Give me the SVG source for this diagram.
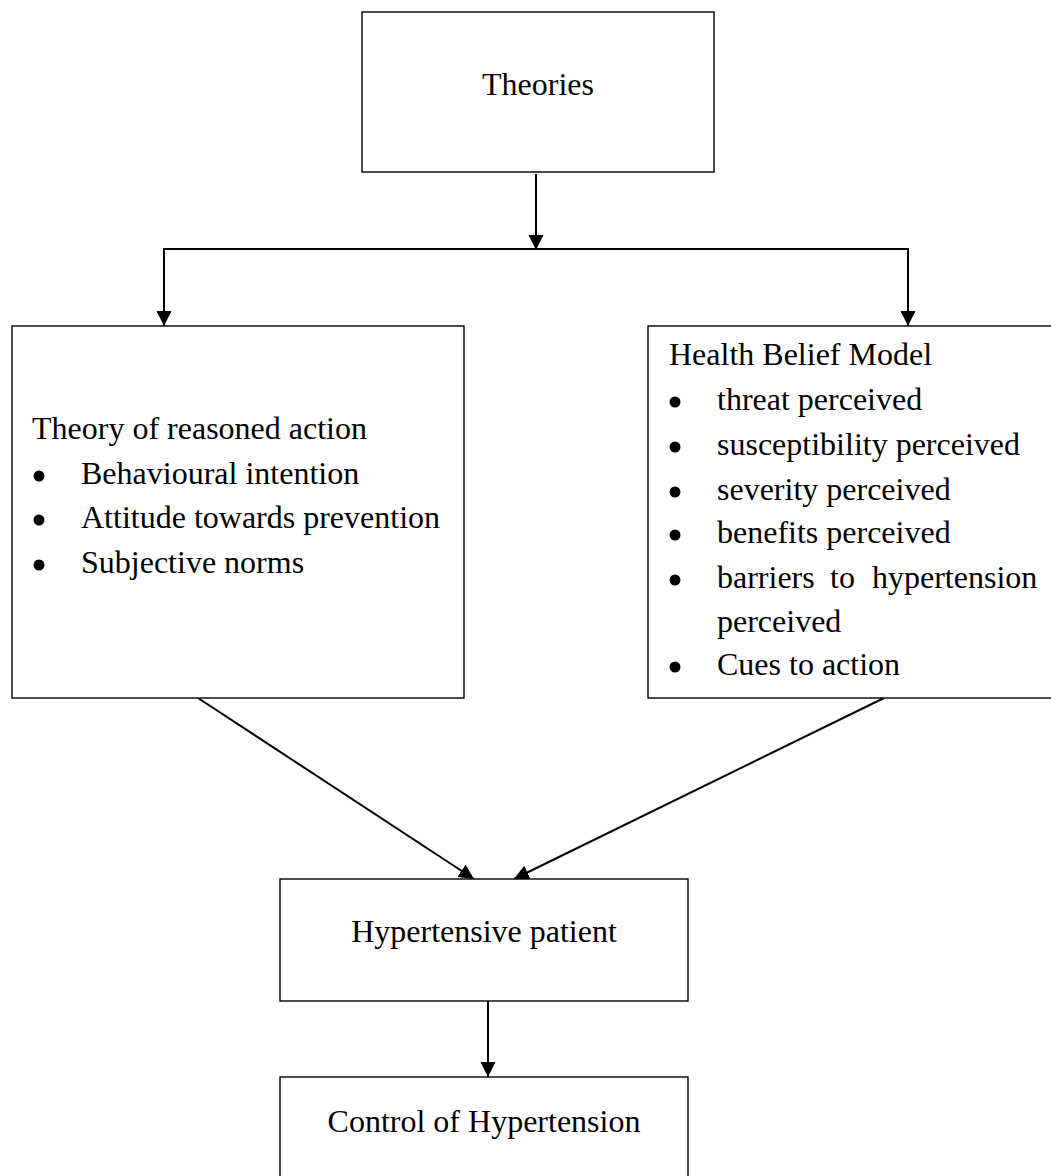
<svg xmlns="http://www.w3.org/2000/svg" width="1051" height="1176" viewBox="0 0 1051 1176">
<style>
  .box { fill: #ffffff; stroke: #000000; stroke-width: 1.4; }
  .conn { fill: none; stroke: #000000; stroke-width: 2; }
  .t { font-family: "Liberation Serif", "Times New Roman", serif; font-size: 32px; fill: #000000; }
  .c { text-anchor: middle; }
  .bullet { fill: #000000; }
</style>
<defs>
  <marker id="arrow" markerUnits="userSpaceOnUse" markerWidth="16" markerHeight="16" refX="15" refY="7.5" orient="auto">
    <path d="M0,0 L15,7.5 L0,15 Z" fill="#000000"/>
  </marker>
</defs>
<rect width="1051" height="1176" fill="#ffffff"/>

<g id="connectors">
  <line class="conn" x1="536" y1="174" x2="536" y2="250" marker-end="url(#arrow)"/>
  <line class="conn" x1="164" y1="249" x2="908" y2="249"/>
  <line class="conn" x1="164" y1="248" x2="164" y2="326" marker-end="url(#arrow)"/>
  <line class="conn" x1="908" y1="248" x2="908" y2="326" marker-end="url(#arrow)"/>
  <line class="conn" x1="198" y1="698" x2="474" y2="879" marker-end="url(#arrow)"/>
  <line class="conn" x1="884" y1="698" x2="514" y2="879" marker-end="url(#arrow)"/>
  <line class="conn" x1="488" y1="1001" x2="488" y2="1077" marker-end="url(#arrow)"/>
</g>

<g id="theories">
  <rect class="box" x="362" y="12" width="352" height="160"/>
  <text class="t c" x="538" y="95">Theories</text>
</g>

<g id="reasoned-action">
  <rect class="box" x="12" y="326" width="452" height="372"/>
  <text class="t" x="32" y="439">Theory of reasoned action</text>
  <circle class="bullet" cx="39" cy="476" r="5.5"/>
  <text class="t" x="81" y="484">Behavioural intention</text>
  <circle class="bullet" cx="39" cy="520" r="5.5"/>
  <text class="t" x="81" y="528">Attitude towards prevention</text>
  <circle class="bullet" cx="39" cy="565" r="5.5"/>
  <text class="t" x="81" y="573">Subjective norms</text>
</g>

<g id="health-belief">
  <rect class="box" x="648" y="326" width="420" height="372"/>
  <text class="t" x="669" y="365">Health Belief Model</text>
  <circle class="bullet" cx="675" cy="402" r="5.5"/>
  <text class="t" x="717" y="410">threat perceived</text>
  <circle class="bullet" cx="675" cy="447" r="5.5"/>
  <text class="t" x="717" y="455">susceptibility perceived</text>
  <circle class="bullet" cx="675" cy="492" r="5.5"/>
  <text class="t" x="717" y="500">severity perceived</text>
  <circle class="bullet" cx="675" cy="535" r="5.5"/>
  <text class="t" x="717" y="543">benefits perceived</text>
  <circle class="bullet" cx="675" cy="580" r="5.5"/>
  <text class="t" y="588"><tspan x="717">barriers</tspan><tspan x="830">to</tspan><tspan x="872">hypertension</tspan></text>
  <text class="t" x="717" y="632">perceived</text>
  <circle class="bullet" cx="675" cy="667" r="5.5"/>
  <text class="t" x="717" y="675">Cues to action</text>
</g>

<g id="hypertensive-patient">
  <rect class="box" x="280" y="879" width="408" height="122"/>
  <text class="t c" x="484" y="942">Hypertensive patient</text>
</g>

<g id="control">
  <rect class="box" x="280" y="1077" width="408" height="120"/>
  <text class="t c" x="484" y="1132">Control of Hypertension</text>
</g>
</svg>
